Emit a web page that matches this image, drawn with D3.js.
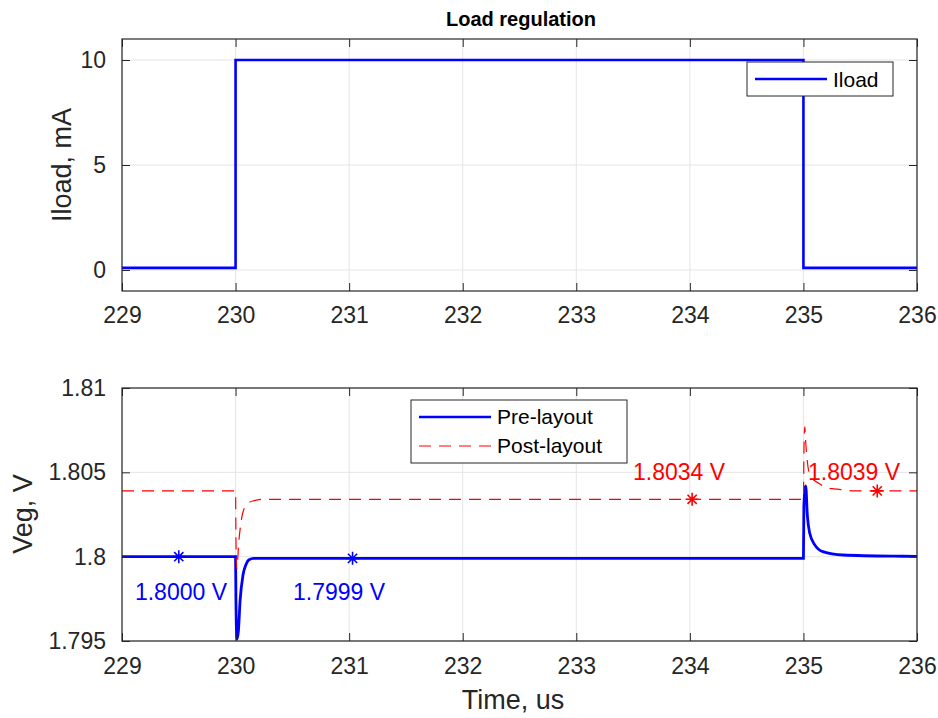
<!DOCTYPE html>
<meta charset="utf-8">
<script src="https://d3js.org/d3.v7.min.js"></script>
<style>
  body { margin: 0; background: #fff; }
  text { font-family: "Liberation Sans", Arial, sans-serif; }
</style>
<div id="chart"></div>
<script>
// data
var loadT = [229, 230, 230, 235, 235, 236];
var loadI = [0.1, 0.1, 10, 10, 0.1, 0.1];

var preT = [229, 230, 230.003, 230.012, 230.025, 230.04, 230.065, 230.09, 230.115, 230.16, 230.25, 235, 235.004, 235.02, 235.035, 235.055, 235.1, 235.17, 235.35, 235.8, 236];
var preV = [1.8000, 1.8000, 1.7975, 1.7951, 1.7956, 1.7974, 1.7989, 1.7995, 1.7998, 1.7999, 1.7999, 1.7999, 1.8030, 1.8042, 1.8024, 1.8014, 1.8007, 1.8003, 1.8001, 1.80003, 1.80002];

var postT = [229, 230, 230.003, 230.01, 230.03, 230.06, 230.1, 230.15, 230.25, 235, 235.005, 235.012, 235.02, 235.035, 235.06, 235.1, 235.13, 235.2, 235.3, 235.45, 236];
var postV = [1.8039, 1.8039, 1.8012, 1.7993, 1.8010, 1.8025, 1.8031, 1.8033, 1.8034, 1.8034, 1.8065, 1.8077, 1.8068, 1.8056, 1.8048, 1.8045, 1.80437, 1.8041, 1.8040, 1.8039, 1.8039];

var markers = [
  {t: 229.5, v: 1.8000, label: "1.8000 V", color: "#0000ff", lx: 229.114, lv: 1.79743},
  {t: 231.03, v: 1.7999, label: "1.7999 V", color: "#0000ff", lx: 230.506, lv: 1.79743},
  {t: 234.02, v: 1.8034, label: "1.8034 V", color: "#ff0000", lx: 233.5, lv: 1.80455},
  {t: 235.65, v: 1.8039, label: "1.8039 V", color: "#ff0000", lx: 235.04, lv: 1.80455}
];

var xTicks = [229, 230, 231, 232, 233, 234, 235, 236];
var yTicksTop = [0, 5, 10];
var yTicksBot = [1.795, 1.8, 1.805, 1.81];

var W = 938, H = 718;
var svg = d3.select("#chart").append("svg")
  .attr("width", W).attr("height", H);

var left = 122, right = 917;
var axisCol = "#262626", gridCol = "#e5e5e5";
var tickFont = "23px", labelFont = "27px", legendFont = "21px";

function drawGrid(g, x, y, xt, yt, id) {
  var x0 = x.range()[0], x1 = x.range()[1];
  var y0 = y.range()[0], y1 = y.range()[1];
  g.selectAll(".gx").data(xt).enter().append("line")
    .attr("x1", d => x(d)).attr("x2", d => x(d))
    .attr("y1", y0).attr("y2", y1)
    .attr("stroke", gridCol).attr("stroke-width", 1);
  g.selectAll(".gy").data(yt).enter().append("line")
    .attr("x1", x0).attr("x2", x1)
    .attr("y1", d => y(d)).attr("y2", d => y(d))
    .attr("stroke", gridCol).attr("stroke-width", 1);
  g.append("clipPath").attr("id", id).append("rect")
    .attr("x", x0).attr("y", y1).attr("width", x1 - x0).attr("height", y0 - y1);
}

function drawFrame(g, x, y, xt, yt, yfmt, xpad) {
  var x0 = x.range()[0], x1 = x.range()[1];
  var y0 = y.range()[0], y1 = y.range()[1];
  var tl = 8;
  g.append("g").attr("transform", "translate(0," + y0 + ")")
    .call(d3.axisBottom(x).tickValues(xt).tickSize(-tl).tickPadding(xpad).tickFormat(d3.format("d")))
    .call(a => a.select(".domain").remove());
  g.append("g").attr("transform", "translate(0," + y1 + ")")
    .call(d3.axisTop(x).tickValues(xt).tickSize(-tl).tickFormat(""))
    .call(a => a.select(".domain").remove());
  g.append("g").attr("transform", "translate(" + x0 + ",0)")
    .call(d3.axisLeft(y).tickValues(yt).tickSize(-tl).tickPadding(16).tickFormat(yfmt))
    .call(a => a.select(".domain").remove());
  g.append("g").attr("transform", "translate(" + x1 + ",0)")
    .call(d3.axisRight(y).tickValues(yt).tickSize(-tl).tickFormat(""))
    .call(a => a.select(".domain").remove());
  g.selectAll(".tick line").attr("stroke", axisCol).attr("stroke-width", 1);
  g.selectAll(".tick text").attr("fill", axisCol).style("font-size", tickFont)
    .style("font-family", "'Liberation Sans', Arial, sans-serif");
  g.append("rect").attr("x", x0).attr("y", y1).attr("width", x1 - x0).attr("height", y0 - y1)
    .attr("fill", "none").attr("stroke", axisCol).attr("stroke-width", 1.2);
}

// ---------- top panel ----------
var xTop = d3.scaleLinear().domain([229, 236]).range([left, right]);
var yTop = d3.scaleLinear().domain([-1, 11]).range([291, 39]);
var gTop = svg.append("g");
drawGrid(gTop, xTop, yTop, xTicks, yTicksTop, "clipTop");

var loadData = loadT.map((t, i) => ({t: t, v: loadI[i]}));
gTop.append("path").datum(loadData)
  .attr("clip-path", "url(#clipTop)")
  .attr("fill", "none").attr("stroke", "#0000ff").attr("stroke-width", 2.6)
  .attr("d", d3.line().x(d => xTop(d.t)).y(d => yTop(d.v)));

drawFrame(gTop, xTop, yTop, xTicks, yTicksTop, d3.format("d"), 16);

svg.append("text").attr("x", 521).attr("y", 26).attr("text-anchor", "middle")
  .style("font-size", "20px").style("font-weight", "bold").attr("fill", "#000")
  .text("Load regulation");

svg.append("text").attr("transform", "translate(71,165) rotate(-90)")
  .attr("text-anchor", "middle").style("font-size", labelFont).attr("fill", axisCol)
  .text("Iload, mA");

// top legend
var lgTop = svg.append("g");
lgTop.append("rect").attr("x", 747).attr("y", 62).attr("width", 146).attr("height", 34)
  .attr("fill", "#fff").attr("stroke", axisCol).attr("stroke-width", 1);
lgTop.append("line").attr("x1", 755).attr("x2", 827).attr("y1", 79).attr("y2", 79)
  .attr("stroke", "#0000ff").attr("stroke-width", 2.6);
lgTop.append("text").attr("x", 833).attr("y", 87).style("font-size", legendFont).attr("fill", "#000")
  .text("Iload");

// ---------- bottom panel ----------
var xBot = d3.scaleLinear().domain([229, 236]).range([left, right]);
var yBot = d3.scaleLinear().domain([1.795, 1.81]).range([641, 388]);
var gBot = svg.append("g");
drawGrid(gBot, xBot, yBot, xTicks, yTicksBot, "clipBot");

var line = d3.line().curve(d3.curveMonotoneX).x(d => xBot(d.t)).y(d => yBot(d.v));
var preData = preT.map((t, i) => ({t: t, v: preV[i]}));
var postData = postT.map((t, i) => ({t: t, v: postV[i]}));

gBot.append("path").datum(preData)
  .attr("clip-path", "url(#clipBot)")
  .attr("fill", "none").attr("stroke", "#0000ff").attr("stroke-width", 2.8)
  .attr("d", line);
gBot.append("path").datum(postData)
  .attr("clip-path", "url(#clipBot)")
  .attr("fill", "none").attr("stroke", "#ff0000").attr("stroke-width", 1.2)
  .attr("stroke-dasharray", "12,8")
  .attr("d", line);

// asterisk markers
function asterisk(cx, cy, r) {
  var d = "";
  [0, 45, 90, 135].forEach(function(a) {
    var rad = a * Math.PI / 180;
    var dx = r * Math.cos(rad), dy = r * Math.sin(rad);
    d += "M" + (cx - dx) + "," + (cy - dy) + "L" + (cx + dx) + "," + (cy + dy);
  });
  return d;
}
gBot.selectAll(".mk").data(markers).enter().append("path")
  .attr("d", d => asterisk(xBot(d.t), yBot(d.v), 6.5))
  .attr("stroke", d => d.color).attr("stroke-width", 1.6).attr("fill", "none");
gBot.selectAll(".ml").data(markers).enter().append("text")
  .attr("x", d => xBot(d.lx)).attr("y", d => yBot(d.lv))
  .style("font-size", tickFont).attr("fill", d => d.color)
  .text(d => d.label);

drawFrame(gBot, xBot, yBot, xTicks, yTicksBot, d3.format(""), 17);

svg.append("text").attr("transform", "translate(32,514) rotate(-90)")
  .attr("text-anchor", "middle").style("font-size", labelFont).attr("fill", axisCol)
  .text("Veg, V");
svg.append("text").attr("x", 513).attr("y", 709).attr("text-anchor", "middle")
  .style("font-size", labelFont).attr("fill", axisCol)
  .text("Time, us");

// bottom legend
var lgBot = svg.append("g");
lgBot.append("rect").attr("x", 411).attr("y", 400).attr("width", 216).attr("height", 63)
  .attr("fill", "#fff").attr("stroke", axisCol).attr("stroke-width", 1);
lgBot.append("line").attr("x1", 419).attr("x2", 491).attr("y1", 417).attr("y2", 417)
  .attr("stroke", "#0000ff").attr("stroke-width", 2.6);
lgBot.append("line").attr("x1", 419).attr("x2", 491).attr("y1", 446).attr("y2", 446)
  .attr("stroke", "#ff0000").attr("stroke-width", 1.2).attr("stroke-dasharray", "12,8");
lgBot.append("text").attr("x", 497).attr("y", 424).style("font-size", legendFont).attr("fill", "#000")
  .text("Pre-layout");
lgBot.append("text").attr("x", 497).attr("y", 453).style("font-size", legendFont).attr("fill", "#000")
  .text("Post-layout");
</script>
